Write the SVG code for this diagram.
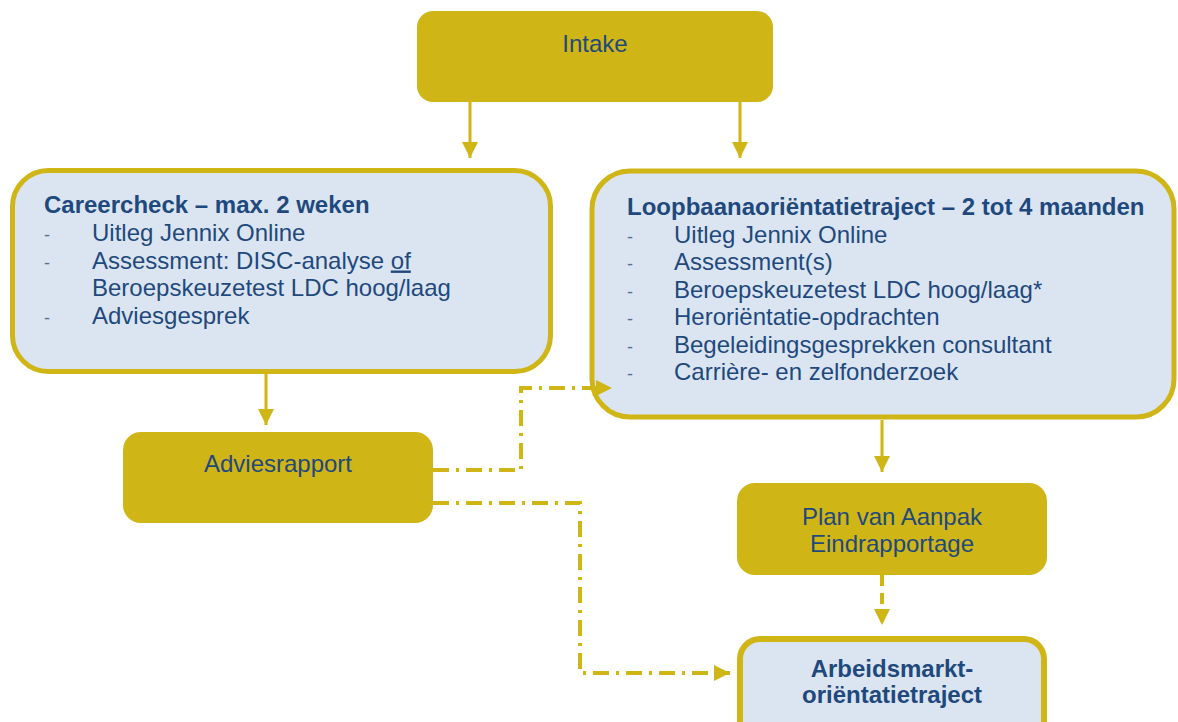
<svg xmlns="http://www.w3.org/2000/svg" width="1178" height="722" viewBox="0 0 1178 722">
<style>
.gold{fill:#CFB516;}
.blue{fill:#DBE5F1;stroke:#CFB516;}
.t{font-family:"Liberation Sans",Arial,sans-serif;font-size:24px;fill:#1F497D;}
.b{font-weight:bold;}
.c{text-anchor:middle;}
.d{font-size:18px;fill:#5A6F8F;}
.ln{fill:none;stroke:#CFB516;stroke-width:3;}
.dd{fill:none;stroke:#CFB516;stroke-width:4;stroke-dasharray:16 7 3 7;}
.ds{fill:none;stroke:#CFB516;stroke-width:4;stroke-dasharray:11 7;}
</style>
<defs>
<marker id="ah" viewBox="0 0 16 16" markerWidth="16" markerHeight="16" refX="16" refY="8" markerUnits="userSpaceOnUse" orient="auto">
<path d="M0,0 L16,8 L0,16 z" fill="#CFB516"/>
</marker>
</defs>
<rect width="1178" height="722" fill="#FFFFFF"/>
<g id="intake">
<rect class="gold" x="417" y="11" width="356" height="91" rx="16"/>
<text class="t c" x="595" y="52">Intake</text>
</g>
<g id="careercheck">
<rect class="blue" x="12.5" y="170.5" width="538" height="201" rx="36" stroke-width="5"/>
<text class="t b" x="44" y="213">Careercheck – max. 2 weken</text>
<text class="t d" x="44" y="241">-</text>
<text class="t" x="92" y="241">Uitleg Jennix Online</text>
<text class="t d" x="44" y="268.5">-</text>
<text class="t" x="92" y="268.5">Assessment: DISC-analyse <tspan text-decoration="underline">of</tspan></text>
<text class="t" x="92" y="296">Beroepskeuzetest LDC hoog/laag</text>
<text class="t d" x="44" y="323.5">-</text>
<text class="t" x="92" y="323.5">Adviesgesprek</text>
</g>
<g id="loopbaan">
<rect class="blue" x="592" y="171" width="582" height="246" rx="38" stroke-width="5"/>
<text class="t b" x="627" y="215">Loopbaanaoriëntatietraject – 2 tot 4 maanden</text>
<text class="t d" x="627" y="242.5">-</text>
<text class="t" x="674" y="242.5">Uitleg Jennix Online</text>
<text class="t d" x="627" y="270">-</text>
<text class="t" x="674" y="270">Assessment(s)</text>
<text class="t d" x="627" y="297.5">-</text>
<text class="t" x="674" y="297.5">Beroepskeuzetest LDC hoog/laag*</text>
<text class="t d" x="627" y="325">-</text>
<text class="t" x="674" y="325">Heroriëntatie-opdrachten</text>
<text class="t d" x="627" y="352.5">-</text>
<text class="t" x="674" y="352.5">Begeleidingsgesprekken consultant</text>
<text class="t d" x="627" y="380">-</text>
<text class="t" x="674" y="380">Carrière- en zelfonderzoek</text>
</g>
<g id="adviesrapport">
<rect class="gold" x="123" y="432" width="310" height="91" rx="18"/>
<text class="t c" x="278" y="472">Adviesrapport</text>
</g>
<g id="planvanaanpak">
<rect class="gold" x="737" y="483" width="310" height="92" rx="18"/>
<text class="t c" x="892" y="525">Plan van Aanpak</text>
<text class="t c" x="892" y="552">Eindrapportage</text>
</g>
<g id="arbeidsmarkt">
<rect class="blue" x="740" y="639" width="304" height="110" rx="20" stroke-width="6"/>
<text class="t b c" x="892" y="677">Arbeidsmarkt-</text>
<text class="t b c" x="892" y="703">oriëntatietraject</text>
</g>
<g id="connectors">
<path class="ln" d="M470,102 V158" marker-end="url(#ah)"/>
<path class="ln" d="M740,102 V158" marker-end="url(#ah)"/>
<path class="ln" d="M266,374 V425" marker-end="url(#ah)"/>
<path class="ln" d="M882,420 V472" marker-end="url(#ah)"/>
<path class="ds" d="M882,575 V625" marker-end="url(#ah)"/>
<path class="dd" d="M433,470 H521 V388 H612" marker-end="url(#ah)"/>
<path class="dd" d="M433,503 H580 V673 H730" marker-end="url(#ah)"/>
</g>
</svg>
